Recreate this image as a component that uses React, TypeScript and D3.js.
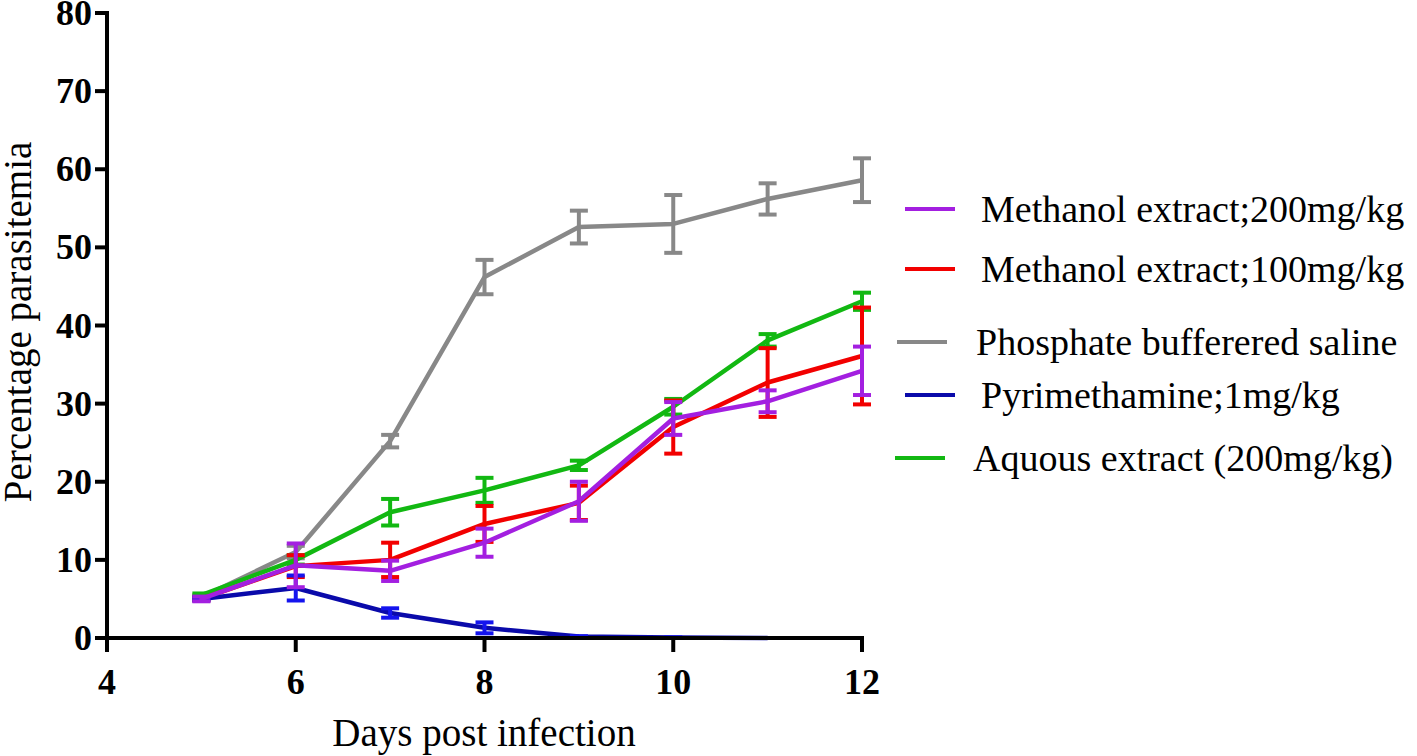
import React, { useEffect, useRef } from "react";
import * as d3 from "d3";

// days post infection
const days = [5, 6, 7, 8, 9, 10, 11, 12];
const blueDays = [5, 6, 7, 8, 9, 10, 11];

// mean parasitemia (%) and error per group
const pbsMean = [5.2, 11.0, 25.2, 46.2, 52.6, 53.0, 56.2, 58.6];
const pbsErr = [0.3, 0.8, 0.8, 2.2, 2.1, 3.7, 2.0, 2.8];
const aqMean = [5.5, 10.0, 16.1, 18.9, 22.1, 29.6, 38.1, 43.1];
const aqErr = [0.2, 0.6, 1.7, 1.6, 0.6, 1.0, 0.8, 1.1];
const me100Mean = [5.0, 9.2, 10.0, 14.6, 17.3, 27.0, 32.7, 36.1];
const me100Err = [0.2, 1.4, 2.2, 2.3, 2.2, 3.4, 4.4, 6.2];
const pyrMean = [5.0, 6.4, 3.2, 1.3, 0.2, 0.05, 0.0];
const pyrErr = [0.2, 1.6, 0.6, 0.7, 0, 0, 0];
const me200Mean = [5.0, 9.3, 8.6, 12.2, 17.5, 28.1, 30.3, 34.2];
const me200Err = [0.3, 2.8, 1.3, 1.8, 2.5, 2.1, 1.4, 3.1];

const xTicks = [4, 6, 8, 10, 12];
const yTicks = [0, 10, 20, 30, 40, 50, 60, 70, 80];

const legendLabels = [
  "Methanol extract;200mg/kg",
  "Methanol extract;100mg/kg",
  "Phosphate bufferered saline",
  "Pyrimethamine;1mg/kg",
  "Aquous extract (200mg/kg)",
];

export default function App() {
  const ref = useRef<SVGSVGElement>(null);

  useEffect(() => {
    const svg = d3.select(ref.current);
    svg.selectAll("*").remove();

    const x = d3.scaleLinear().domain([4, 12]).range([107, 862]);
    const y = d3.scaleLinear().domain([0, 80]).range([638, 13]);

    // series in drawing order (bottom to top)
    const series = [
      { name: "pbs", x: days, m: pbsMean, e: pbsErr, line: "#888888", cap: "#888888" },
      { name: "aq", x: days, m: aqMean, e: aqErr, line: "#12b812", cap: "#12b812" },
      { name: "me100", x: days, m: me100Mean, e: me100Err, line: "#f20000", cap: "#f20000" },
      { name: "pyr", x: blueDays, m: pyrMean, e: pyrErr, line: "#0a0aaa", cap: "#1414ee" },
      { name: "me200", x: days, m: me200Mean, e: me200Err, line: "#a31fe0", cap: "#a31fe0" },
    ];

    const line = d3
      .line<[number, number]>()
      .x((d) => x(d[0]))
      .y((d) => y(d[1]));

    series.forEach((s) => {
      const pts: [number, number][] = s.x.map((d, i) => [d, s.m[i]]);
      const g = svg.append("g");
      g.append("path")
        .attr("d", line(pts))
        .attr("fill", "none")
        .attr("stroke", s.line)
        .attr("stroke-width", 4.5)
        .attr("stroke-linejoin", "round");

      const bars = g
        .selectAll("g.err")
        .data(pts.map((p, i) => ({ d: p[0], m: p[1], e: s.e[i] })))
        .enter()
        .append("g")
        .attr("class", "err");
      bars
        .append("line")
        .attr("x1", (d) => x(d.d))
        .attr("x2", (d) => x(d.d))
        .attr("y1", (d) => y(d.m + d.e))
        .attr("y2", (d) => y(d.m - d.e))
        .attr("stroke", s.cap)
        .attr("stroke-width", 4);
      [1, -1].forEach((sign) => {
        bars
          .append("line")
          .attr("x1", (d) => x(d.d) - 9)
          .attr("x2", (d) => x(d.d) + 9)
          .attr("y1", (d) => y(d.m + sign * d.e))
          .attr("y2", (d) => y(d.m + sign * d.e))
          .attr("stroke", s.cap)
          .attr("stroke-width", 4);
      });
    });

    // axes
    const axis = svg.append("g").attr("stroke", "black").attr("stroke-width", 4);
    axis.append("line").attr("x1", x(4)).attr("x2", x(4)).attr("y1", y(80) - 2).attr("y2", y(0) + 14);
    axis.append("line").attr("x1", x(4) - 12).attr("x2", x(12) + 2).attr("y1", y(0)).attr("y2", y(0));
    yTicks.forEach((t) => {
      axis.append("line").attr("x1", x(4) - 12).attr("x2", x(4)).attr("y1", y(t)).attr("y2", y(t));
    });
    xTicks.forEach((t) => {
      axis.append("line").attr("x1", x(t)).attr("x2", x(t)).attr("y1", y(0)).attr("y2", y(0) + 14);
    });

    const font = "'Liberation Serif', 'Times New Roman', serif";
    svg
      .append("g")
      .selectAll("text")
      .data(yTicks)
      .enter()
      .append("text")
      .attr("x", x(4) - 15)
      .attr("y", (d) => y(d) + 12)
      .attr("text-anchor", "end")
      .style("font-family", font)
      .style("font-weight", "bold")
      .style("font-size", "36px")
      .text((d) => d);
    svg
      .append("g")
      .selectAll("text")
      .data(xTicks)
      .enter()
      .append("text")
      .attr("x", (d) => x(d))
      .attr("y", 694)
      .attr("text-anchor", "middle")
      .style("font-family", font)
      .style("font-weight", "bold")
      .style("font-size", "36px")
      .text((d) => d);

    svg
      .append("text")
      .attr("transform", "translate(31," + 322 + ")rotate(-90)")
      .attr("text-anchor", "middle")
      .style("font-family", font)
      .style("font-size", "39px")
      .text("Percentage parasitemia");
    svg
      .append("text")
      .attr("x", 484)
      .attr("y", 746)
      .attr("text-anchor", "middle")
      .style("font-family", font)
      .style("font-size", "39px")
      .text("Days post infection");

    // legend
    const legendColors = ["#a31fe0", "#f20000", "#888888", "#0a0aaa", "#12b812"];
    const legendY = [209, 269, 342, 395, 458];
    const legendLineX = [905, 905, 897, 905, 895];
    const legendTextX = [981, 981, 976, 981, 973];
    legendLabels.forEach((lab, i) => {
      svg
        .append("line")
        .attr("x1", legendLineX[i])
        .attr("x2", legendLineX[i] + 50)
        .attr("y1", legendY[i])
        .attr("y2", legendY[i])
        .attr("stroke", legendColors[i])
        .attr("stroke-width", 4);
      svg
        .append("text")
        .attr("x", legendTextX[i])
        .attr("y", legendY[i] + 13)
        .style("font-family", font)
        .style("font-size", "38px")
        .text(lab);
    });
  }, []);

  return (
    <svg
      ref={ref}
      width={1417}
      height={756}
      style={{ position: "absolute", left: 0, top: 0, background: "white" }}
    />
  );
}
